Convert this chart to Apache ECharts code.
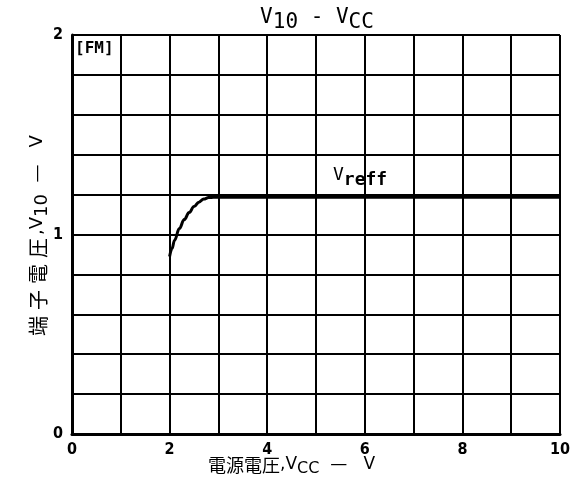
<!DOCTYPE html>
<html><head><meta charset="utf-8">
<script src="https://cdn.jsdelivr.net/npm/echarts@6/dist/echarts.min.js"></script>
<style>html,body{margin:0;padding:0;background:#fff}#c{width:573px;height:495px}</style>
</head><body><div id="c"></div>
<script>
const vccValues = [2.0, 2.05, 2.1, 2.2, 2.3, 2.4, 2.5, 2.6, 2.7, 2.8, 2.9, 3.0, 4.0, 6.0, 8.0, 10.0];
const v10Values = [0.89, 0.93, 0.97, 1.03, 1.075, 1.11, 1.14, 1.162, 1.178, 1.185, 1.187, 1.187, 1.187, 1.187, 1.187, 1.187];
const xTickLabels = ['0', '2', '4', '6', '8', '10'];
const yTickLabels = ['0', '1', '2'];

const chart = echarts.init(document.getElementById('c'));
const tickFont = {color: '#000', fontFamily: 'DejaVu Sans Condensed', fontWeight: 'bold', fontSize: 16};
const isInt = v => Math.abs(v - Math.round(v)) < 1e-6;
chart.setOption({
  backgroundColor: '#fff',
  animation: false,
  title: {
    text: '{v|V}{s|10}{v| - V}{s|CC}',
    left: 312, top: 2, textAlign: 'center',
    textStyle: {fontWeight: 'normal', rich: {
      v: {fontFamily: 'DejaVu Sans Mono', fontWeight: 'normal', fontSize: 21, color: '#000', padding: [0, 0, 5, 0], verticalAlign: 'bottom'},
      s: {fontFamily: 'DejaVu Sans Mono', fontWeight: 'normal', fontSize: 21, color: '#000', verticalAlign: 'bottom'}
    }}
  },
  grid: {left: 72, right: 11, top: 35, bottom: 61, show: false},
  xAxis: {
    type: 'value', min: 0, max: 10, interval: 1,
    axisLine: {show: true, lineStyle: {color: '#000', width: 3}},
    axisTick: {show: false},
    splitLine: {show: true, lineStyle: {color: '#000', width: 2}},
    axisLabel: {...tickFont, margin: 8,
      formatter: v => isInt(v) && xTickLabels.includes(String(Math.round(v))) ? String(Math.round(v)) : ''}
  },
  yAxis: {
    type: 'value', min: 0, max: 2, interval: 0.2,
    axisLine: {show: true, lineStyle: {color: '#000', width: 3}},
    axisTick: {show: false},
    splitLine: {show: true, lineStyle: {color: '#000', width: 2}},
    axisLabel: {...tickFont, margin: 9, padding: [0, 0, 6, 0],
      formatter: v => isInt(v) && yTickLabels.includes(String(Math.round(v))) ? String(Math.round(v)) : ''}
  },
  series: [{
    type: 'line', data: vccValues.map((x, i) => [x, v10Values[i]]),
    smooth: 0.4, smoothMonotone: 'x', showSymbol: false, lineStyle: {color: '#000', width: 3}
  }],
  graphic: [
    {type: 'text', left: 75, top: 41, style: {text: '[FM]', font: 'bold 16px "DejaVu Sans Mono"', fill: '#000'}},
    {type: 'text', left: 333, top: 166, style: {
      text: '{v|V}{s|reff}', rich: {
        v: {font: '18px "DejaVu Sans Mono"', fill: '#000', padding: [0, 0, 5, 0], verticalAlign: 'bottom'},
        s: {font: 'bold 18px "DejaVu Sans Mono"', fill: '#000', verticalAlign: 'bottom'}
      }}},
    {type: 'text', left: 208, top: 456, style: {
      text: '{c|電源電圧}{v|,V}{s|CC}{v|  —   V}', rich: {
        c: {font: '18px "Noto Sans CJK JP"', fill: '#000', padding: [0, 0, 3, 0], verticalAlign: 'bottom'},
        v: {font: '17px "DejaVu Sans"', fill: '#000', padding: [0, 0, 4, 0], verticalAlign: 'bottom'},
        s: {font: '16px "DejaVu Sans"', fill: '#000', verticalAlign: 'bottom'}
      }}},
    {type: 'text', x: 40, y: 237, rotation: Math.PI / 2, style: {
      text: '{c|端}{c|子}{c|電}{c|圧}{v|,V}{s|10}{v|  —   V}', align: 'center', verticalAlign: 'middle', rich: {
        c: {font: '20px "Noto Sans CJK JP"', fill: '#000', padding: [0, 3, 3, 3], verticalAlign: 'bottom'},
        v: {font: '18px "DejaVu Sans"', fill: '#000', padding: [0, 0, 5, 0], verticalAlign: 'bottom'},
        s: {font: '18px "DejaVu Sans"', fill: '#000', verticalAlign: 'bottom'}
      }}}
  ]
});
</script></body></html>
